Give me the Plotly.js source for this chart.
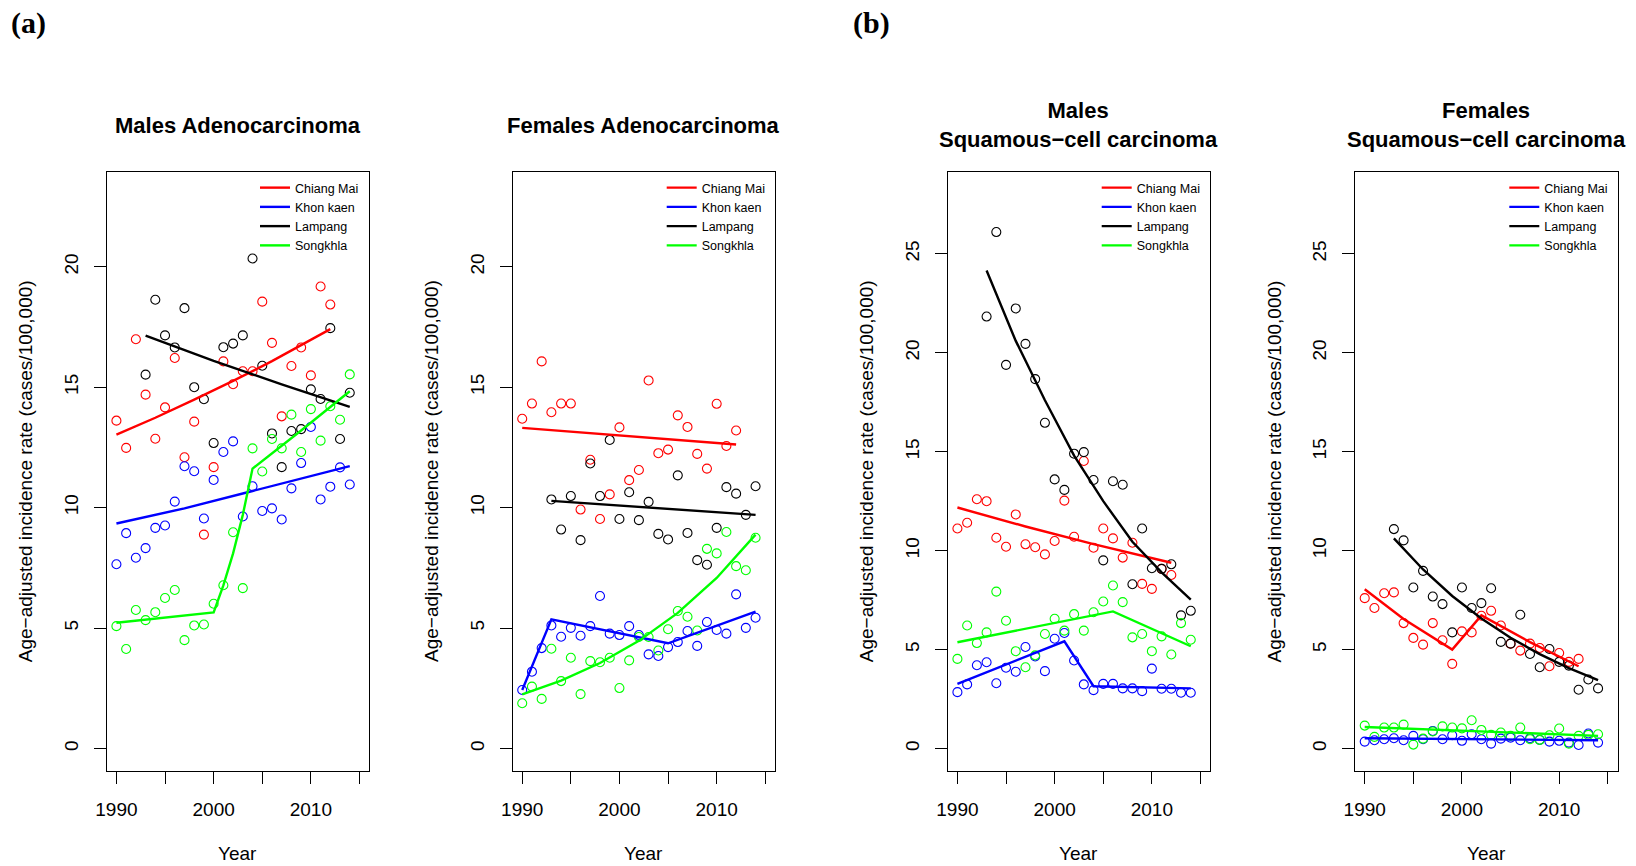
<!DOCTYPE html>
<html>
<head>
<meta charset="utf-8">
<script src="https://cdn.plot.ly/plotly-3.0.1.min.js"></script>
<style>
html, body { margin: 0; padding: 0; background: #ffffff; }
#chart { width: 1636px; height: 866px; }
</style>
</head>
<body>
<div id="chart"></div>
<script>
// ---------- categories / labels ----------
const regions = ['Chiang Mai', 'Khon kaen', 'Lampang', 'Songkhla'];
const regionColors = ['#FF0000', '#0000FF', '#000000', '#00FF00'];
const panelTitles = ['Males Adenocarcinoma', 'Females Adenocarcinoma',
  'Males<br>Squamous\u2212cell carcinoma', 'Females<br>Squamous\u2212cell carcinoma'];
const panelTags = ['(a)', '(b)'];
const xAxisLabel = 'Year';
const yAxisLabel = 'Age\u2212adjusted incidence rate (cases/100,000)';

const xTickVals = [1990, 1995, 2000, 2005, 2010, 2015];
const xTickText = ['1990', '', '2000', '', '2010', ''];
const yTickValsAdeno = [0, 5, 10, 15, 20];
const yTickValsSCC = [0, 5, 10, 15, 20, 25];

// ---------- years ----------
const yearsCM = [1990,1991,1992,1993,1994,1995,1996,1997,1998,1999,2000,2001,2002,2003,2004,2005,2006,2007,2008,2009,2010,2011,2012];
const yearsKK = [1990,1991,1992,1993,1994,1995,1996,1997,1998,1999,2000,2001,2002,2003,2004,2005,2006,2007,2008,2009,2010,2011,2012,2013,2014];
const yearsLP = [1993,1994,1995,1996,1997,1998,1999,2000,2001,2002,2003,2004,2005,2006,2007,2008,2009,2010,2011,2012,2013,2014];
const yearsSK = [1990,1991,1992,1993,1994,1995,1996,1997,1998,1999,2000,2001,2002,2003,2004,2005,2006,2007,2008,2009,2010,2011,2012,2013,2014];

// ---------- Males adenocarcinoma (observed) ----------
const maleAdenoCM = [13.61,12.48,16.99,14.69,12.86,14.16,16.21,12.09,13.57,8.88,11.68,16.07,15.12,15.66,15.66,18.55,16.84,13.79,15.88,16.65,15.49,19.18,18.43];
const maleAdenoKK = [7.65,8.94,7.92,8.32,9.16,9.26,10.25,11.72,11.51,9.55,11.15,12.31,12.75,9.63,10.89,9.86,9.97,9.51,10.80,11.85,13.35,10.34,10.87,11.67,10.96];
const maleAdenoLP = [15.52,18.63,17.15,16.65,18.28,15.00,14.50,12.68,16.66,16.81,17.15,20.34,15.89,13.08,11.68,13.18,13.26,14.91,14.51,17.45,12.85,14.77];
const maleAdenoSK = [5.08,4.13,5.75,5.33,5.66,6.25,6.58,4.50,5.11,5.15,6.01,6.78,8.98,6.66,12.46,11.50,12.85,12.46,13.86,12.31,14.09,12.78,14.21,13.65,15.53];

// ---------- Males adenocarcinoma (fitted trends) ----------
const maleAdenoCMFitYears = [1990,1994,1998,2002,2006,2010,2012];
const maleAdenoCMFit = [13.03,13.73,14.48,15.26,16.08,16.95,17.41];
const maleAdenoKKFitYears = [1990,1997,2004,2009,2014];
const maleAdenoKKFit = [9.34,9.97,10.69,11.20,11.72];
const maleAdenoLPFitYears = [1993,2000,2007,2014];
const maleAdenoLPFit = [17.14,16.09,15.12,14.18];
const maleAdenoSKFitYears = [1990,2000,2001,2002,2003,2004,2009,2014];
const maleAdenoSKFit = [5.22,5.65,6.77,8.10,9.70,11.62,13.20,14.83];

// ---------- Females adenocarcinoma (observed) ----------
const femaleAdenoCM = [13.69,14.32,16.07,13.96,14.32,14.32,9.92,11.99,9.53,10.55,13.33,11.14,11.56,15.28,12.26,12.41,13.83,13.35,12.23,11.62,14.31,12.56,13.20];
const femaleAdenoKK = [2.43,3.19,4.17,5.11,4.64,5.01,4.68,5.08,6.33,4.77,4.71,5.08,4.71,3.91,3.84,4.21,4.42,4.88,4.26,5.25,4.92,4.77,6.40,5.01,5.43];
const femaleAdenoLP = [10.34,9.09,10.48,8.65,11.83,10.48,12.81,9.53,10.64,9.48,10.24,8.91,8.68,11.34,8.95,7.82,7.63,9.16,10.85,10.58,9.70,10.89];
const femaleAdenoSK = [1.88,2.57,2.06,4.14,2.80,3.77,2.26,3.63,3.58,3.77,2.51,3.66,4.63,4.63,4.07,4.95,5.71,5.47,4.90,8.29,8.10,8.99,7.57,7.40,8.75];

// ---------- Females adenocarcinoma (fitted trends) ----------
const femaleAdenoCMFitYears = [1990,2012];
const femaleAdenoCMFit = [13.31,12.62];
const femaleAdenoKKFitYears = [1990,1993,2005,2014];
const femaleAdenoKKFit = [2.43,5.36,4.37,5.68];
const femaleAdenoLPFitYears = [1993,2014];
const femaleAdenoLPFit = [10.28,9.70];
const femaleAdenoSKFitYears = [1990,1994,1998,2002,2006,2010,2014];
const femaleAdenoSKFit = [2.25,2.82,3.55,4.47,5.63,7.08,8.88];

// ---------- Males squamous-cell (observed) ----------
const maleSccCM = [11.12,11.41,12.60,12.50,10.65,10.20,11.83,10.32,10.17,9.81,10.49,12.53,10.70,14.53,10.15,11.12,10.62,9.65,10.40,8.32,8.07,9.08,8.77];
const maleSccKK = [2.85,3.24,4.21,4.36,3.30,4.08,3.88,5.13,4.65,3.91,5.55,5.84,4.45,3.24,2.95,3.27,3.27,3.04,3.04,2.90,4.04,3.02,3.02,2.82,2.82];
const maleSccLP = [21.83,26.10,19.39,22.24,20.45,18.67,16.46,13.60,13.07,14.90,14.98,13.57,9.51,13.51,13.33,8.30,11.12,9.11,9.08,9.31,6.73,6.96];
const maleSccSK = [4.53,6.22,5.33,5.87,7.93,6.46,4.92,4.11,4.71,5.79,6.56,5.96,6.79,5.96,6.89,7.43,8.24,7.40,5.62,5.79,4.92,5.67,4.75,6.34,5.50];

// ---------- Males squamous-cell (fitted trends) ----------
const maleSccCMFitYears = [1990,1997,2004,2012];
const maleSccCMFit = [12.18,11.22,10.33,9.39];
const maleSccKKFitYears = [1990,2001,2004,2014];
const maleSccKKFit = [3.27,5.42,3.15,3.04];
const maleSccLPFitYears = [1993,1996,1999,2002,2005,2008,2011,2014];
const maleSccLPFit = [24.16,20.60,17.60,14.80,12.50,10.45,8.90,7.52];
const maleSccSKFitYears = [1990,2006,2014];
const maleSccSKFit = [5.37,6.93,5.17];

// ---------- Females squamous-cell (observed) ----------
const femaleSccCM = [7.60,7.10,7.85,7.89,6.34,5.59,5.25,6.34,5.47,4.28,5.92,5.87,6.71,6.96,6.22,5.30,4.95,5.30,5.08,4.16,4.83,4.38,4.53];
const femaleSccKK = [0.35,0.42,0.47,0.52,0.42,0.64,0.47,0.89,0.47,0.67,0.39,0.72,0.47,0.25,0.50,0.55,0.42,0.52,0.44,0.35,0.39,0.30,0.18,0.76,0.30];
const femaleSccLP = [11.09,10.52,8.14,8.98,7.68,7.30,5.87,8.14,7.10,7.35,8.10,5.39,5.30,6.76,4.78,4.11,5.03,4.38,4.19,2.97,3.49,3.04];
const femaleSccSK = [1.16,0.59,1.06,1.06,1.21,0.20,0.50,0.86,1.12,1.06,1.02,1.43,0.94,0.69,0.81,0.64,1.06,0.47,0.44,0.67,1.01,0.25,0.64,0.69,0.72];

// ---------- Females squamous-cell (fitted trends) ----------
const femaleSccCMFitYears = [1990,1994,1999,2002,2007,2012];
const femaleSccCMFit = [8.05,6.55,5.00,6.73,5.38,4.16];
const femaleSccKKFitYears = [1990,2014];
const femaleSccKKFit = [0.52,0.42];
const femaleSccLPFitYears = [1993,1996,1999,2002,2005,2008,2011,2014];
const femaleSccLPFit = [10.62,9.05,7.71,6.57,5.60,4.77,4.06,3.46];
const femaleSccSKFitYears = [1990,2014];
const femaleSccSKFit = [1.09,0.64];

// ---------- assemble panels from the named arrays ----------
const obsYears = [yearsCM, yearsKK, yearsLP, yearsSK];
const panels = [
  { obs: [maleAdenoCM, maleAdenoKK, maleAdenoLP, maleAdenoSK],
    fitX: [maleAdenoCMFitYears, maleAdenoKKFitYears, maleAdenoLPFitYears, maleAdenoSKFitYears],
    fitY: [maleAdenoCMFit, maleAdenoKKFit, maleAdenoLPFit, maleAdenoSKFit], yTicks: yTickValsAdeno, yMax: 23 },
  { obs: [femaleAdenoCM, femaleAdenoKK, femaleAdenoLP, femaleAdenoSK],
    fitX: [femaleAdenoCMFitYears, femaleAdenoKKFitYears, femaleAdenoLPFitYears, femaleAdenoSKFitYears],
    fitY: [femaleAdenoCMFit, femaleAdenoKKFit, femaleAdenoLPFit, femaleAdenoSKFit], yTicks: yTickValsAdeno, yMax: 23 },
  { obs: [maleSccCM, maleSccKK, maleSccLP, maleSccSK],
    fitX: [maleSccCMFitYears, maleSccKKFitYears, maleSccLPFitYears, maleSccSKFitYears],
    fitY: [maleSccCMFit, maleSccKKFit, maleSccLPFit, maleSccSKFit], yTicks: yTickValsSCC, yMax: 28 },
  { obs: [femaleSccCM, femaleSccKK, femaleSccLP, femaleSccSK],
    fitX: [femaleSccCMFitYears, femaleSccKKFitYears, femaleSccLPFitYears, femaleSccSKFitYears],
    fitY: [femaleSccCMFit, femaleSccKKFit, femaleSccLPFit, femaleSccSKFit], yTicks: yTickValsSCC, yMax: 28 }
];

// ---------- layout geometry (pixels in a 1636 x 866 page) ----------
const W = 1636, H = 866;
const boxLeft = [106.7, 512.5, 947.7, 1355.0];
const boxWidth = 262.5;
const boxTop = 172.3, boxBottom = 770.7;
const legendLeft = [255, 661.7, 1096.7, 1504.3];
const FONT = 'Liberation Sans, Arial, Helvetica, sans-serif';

const traces = [];
const layout = {
  width: W, height: H,
  margin: { l: 0, r: 0, t: 0, b: 0 },
  paper_bgcolor: '#ffffff', plot_bgcolor: '#ffffff',
  showlegend: true,
  font: { family: FONT, color: '#000000', size: 19 },
  annotations: []
};

panels.forEach((p, i) => {
  const k = i === 0 ? '' : String(i + 1);
  const xa = 'x' + k, ya = 'y' + k;
  const legName = 'legend' + k;
  regions.forEach((r, j) => {
    traces.push({
      type: 'scatter', mode: 'markers', x: obsYears[j], y: p.obs[j],
      xaxis: xa, yaxis: ya, showlegend: false, hoverinfo: 'x+y', name: r,
      marker: { symbol: 'circle-open', size: 9, color: regionColors[j], line: { width: 1.1, color: regionColors[j] } },
      cliponaxis: false
    });
  });
  regions.forEach((r, j) => {
    traces.push({
      type: 'scatter', mode: 'lines', x: p.fitX[j], y: p.fitY[j],
      xaxis: xa, yaxis: ya, name: r, legend: legName, showlegend: true,
      line: { color: regionColors[j], width: 2.4 }
    });
  });

  const x0 = boxLeft[i] / W, x1 = (boxLeft[i] + boxWidth) / W;
  const yd0 = 1 - boxBottom / H, yd1 = 1 - boxTop / H;
  const pad = p.yMax * 0.04;
  layout['xaxis' + k] = {
    domain: [x0, x1], anchor: ya, range: [1989, 2016],
    tickmode: 'array', tickvals: xTickVals, ticktext: xTickText,
    ticks: 'outside', ticklen: 12, tickwidth: 1, tickcolor: '#000000',
    showline: true, linecolor: '#000000', linewidth: 1, mirror: true,
    showgrid: false, zeroline: false, ticklabelstandoff: 9,
    tickfont: { family: FONT, size: 19, color: '#000000' }
  };
  layout['yaxis' + k] = {
    domain: [yd0, yd1], anchor: xa, range: [-pad, p.yMax + pad],
    tickmode: 'array', tickvals: p.yTicks, ticktext: p.yTicks.map(String),
    ticks: 'outside', ticklen: 12, tickwidth: 1, tickcolor: '#000000',
    showline: true, linecolor: '#000000', linewidth: 1, mirror: true,
    showgrid: false, zeroline: false, tickangle: -90, ticklabelstandoff: 8,
    tickfont: { family: FONT, size: 19, color: '#000000' }
  };
  layout[legName] = {
    x: legendLeft[i] / W, xanchor: 'left', y: 1 - 173 / H, yanchor: 'top',
    bgcolor: 'rgba(0,0,0,0)', borderwidth: 0, itemwidth: 30, tracegroupgap: 0,
    font: { family: FONT, size: 12.5, color: '#000000' }
  };
  const cx = (boxLeft[i] + boxWidth / 2) / W;
  layout.annotations.push({
    xref: 'paper', yref: 'paper', x: cx, y: 1 - 125.2 / H, xanchor: 'center', yanchor: 'middle',
    text: '<b>' + panelTitles[i] + '</b>', showarrow: false,
    font: { family: FONT, size: 22, color: '#000000' }
  });
  layout.annotations.push({
    xref: 'paper', yref: 'paper', x: cx, y: 1 - 853.5 / H, xanchor: 'center', yanchor: 'middle',
    text: xAxisLabel, showarrow: false, font: { family: FONT, size: 19, color: '#000000' }
  });
  layout.annotations.push({
    xref: 'paper', yref: 'paper', x: (boxLeft[i] - 81) / W, y: (yd0 + yd1) / 2,
    xanchor: 'center', yanchor: 'middle', textangle: -90,
    text: yAxisLabel, showarrow: false, font: { family: FONT, size: 19, color: '#000000' }
  });
});

const tagX = [29, 871];
panelTags.forEach((t, i) => {
  layout.annotations.push({
    xref: 'paper', yref: 'paper', x: tagX[i] / W, y: 1 - 23.5 / H, xanchor: 'center', yanchor: 'middle',
    text: '<b>' + t + '</b>', showarrow: false,
    font: { family: 'Liberation Serif, Times New Roman, serif', size: 30, color: '#000000' }
  });
});

Plotly.newPlot('chart', traces, layout, { displayModeBar: false, staticPlot: true });
</script>
</body>
</html>
